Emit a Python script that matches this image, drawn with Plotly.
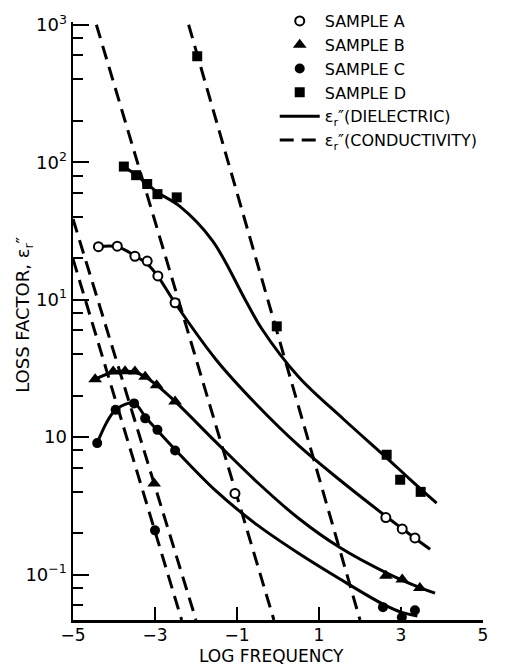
import plotly.graph_objects as go

# ---- measured points (log frequency, loss factor) ----
A_x = [-4.38, -3.92, -3.49, -3.19, -2.93, -2.51, -1.05, 2.63, 3.03, 3.34]
A_y = [24.3, 24.5, 20.7, 19.1, 14.9, 9.5, 0.39, 0.26, 0.215, 0.185]

B_x = [-4.46, -4.02, -3.73, -3.49, -3.24, -2.96, -2.51, -3.02, 2.63, 3.03, 3.46]
B_y = [2.64, 3.0, 3.02, 3.0, 2.75, 2.39, 1.82, 0.46, 0.098, 0.092, 0.080]

C_x = [-4.41, -3.96, -3.51, -3.24, -2.94, -2.51, -3.0, 2.56, 3.02, 3.34]
C_y = [0.905, 1.58, 1.76, 1.37, 1.13, 0.80, 0.21, 0.058, 0.049, 0.055]

D_x = [-3.76, -3.46, -3.19, -2.94, -2.47, -1.97, -0.03, 2.65, 2.98, 3.48]
D_y = [93, 80.5, 69.4, 58.6, 55.5, 590, 6.4, 0.745, 0.49, 0.40]

# ---- dielectric fits (solid curves) ----
A_fit_x = [-4.38, -3.92, -3.49, -3.19, -2.93, -2.51, -1.5, -0.5, 0.5, 1.5, 2.63, 3.03, 3.34, 3.71]
A_fit_y = [24.3, 24.3, 20.9, 18.2, 14.8, 9.46, 3.63, 1.70, 0.871, 0.49, 0.266, 0.216, 0.184, 0.153]

B_fit_x = [-4.46, -4.02, -3.73, -3.49, -3.24, -2.96, -2.51, -1.5, -0.5, 0.5, 1.5, 2.63, 3.46, 3.83]
B_fit_y = [2.64, 2.98, 3.02, 2.98, 2.75, 2.39, 1.82, 0.912, 0.468, 0.257, 0.158, 0.1035, 0.0804, 0.0733]

C_fit_x = [-4.41, -3.96, -3.51, -3.24, -2.94, -2.51, -1.5, -0.5, 0.5, 1.5, 2.56, 3.02, 3.4]
C_fit_y = [0.905, 1.58, 1.76, 1.41, 1.12, 0.813, 0.403, 0.229, 0.143, 0.0933, 0.061, 0.0531, 0.0501]

D_fit_x = [-3.76, -3.46, -3.19, -2.94, -2.4, -1.6, -0.8, -0.4, 0.5, 1.6, 2.65, 3.2, 3.87]
D_fit_y = [93, 80.5, 69.4, 60.3, 47.9, 26.9, 10.0, 6.17, 2.75, 1.35, 0.708, 0.50, 0.331]

# ---- conductivity lines (dashed), endpoints ----
A_cond_x = [-4.43, -0.10]
A_cond_y = [1000, 0.0468]
B_cond_x = [-5.0, -2.0]
B_cond_y = [38.6, 0.0468]
C_cond_x = [-5.0, -2.35]
C_cond_y = [19.8, 0.0468]
D_cond_x = [-2.18, 2.0]
D_cond_y = [1000, 0.0468]

x_tickvals = [-5, -3, -1, 1, 3, 5]
x_ticktext = ["\u22125", "\u22123", "\u22121", "1", "3", "5"]
y_tickvals = [0.1, 1, 10, 100, 1000]
y_ticktext = ["10<sup>\u22121</sup>", "10", "10<sup>1</sup>", "10<sup>2</sup>", "10<sup>3</sup>"]
y_minor = [0.06, 0.08, 0.2, 0.4, 0.6, 0.8, 2, 4, 6, 8, 20, 40, 60, 80, 200, 400, 600, 800]

FONT = "DejaVu Sans"
EPS = "\u03b5<sub>r</sub>\u2033"

fig = go.Figure()

LW = 3
DASH = "14px,8px"

fits = [(A_fit_x, A_fit_y), (B_fit_x, B_fit_y), (C_fit_x, C_fit_y), (D_fit_x, D_fit_y)]
for i, (fx, fy) in enumerate(fits):
    fig.add_trace(go.Scatter(
        x=fx, y=fy, mode="lines",
        line=dict(color="black", width=LW, shape="spline", smoothing=1.0),
        name=EPS + "(DIELECTRIC)", showlegend=(i == 0), legendrank=5,
        hoverinfo="skip"))

conds = [(A_cond_x, A_cond_y), (B_cond_x, B_cond_y), (C_cond_x, C_cond_y), (D_cond_x, D_cond_y)]
for i, (cx, cy) in enumerate(conds):
    fig.add_trace(go.Scatter(
        x=cx, y=cy, mode="lines",
        line=dict(color="black", width=LW, dash=DASH),
        name=EPS + "(CONDUCTIVITY)", showlegend=(i == 0), legendrank=6,
        hoverinfo="skip"))

fig.add_trace(go.Scatter(x=A_x, y=A_y, mode="markers", name="SAMPLE A", legendrank=1,
                         marker=dict(symbol="circle", size=9, color="white",
                                     line=dict(color="black", width=2)), cliponaxis=False))
fig.add_trace(go.Scatter(x=B_x, y=B_y, mode="markers", name="SAMPLE B", legendrank=2,
                         marker=dict(symbol="triangle-up", size=12, color="black",
                                     line=dict(width=0)), cliponaxis=False))
fig.add_trace(go.Scatter(x=C_x, y=C_y, mode="markers", name="SAMPLE C", legendrank=3,
                         marker=dict(symbol="circle", size=10, color="black",
                                     line=dict(width=0)), cliponaxis=False))
fig.add_trace(go.Scatter(x=D_x, y=D_y, mode="markers", name="SAMPLE D", legendrank=4,
                         marker=dict(symbol="square", size=10, color="black",
                                     line=dict(width=0)), cliponaxis=False))

fig.update_layout(
    width=516, height=665,
    margin=dict(l=73, r=33, t=22, b=45, autoexpand=False),
    paper_bgcolor="white", plot_bgcolor="white",
    font=dict(family=FONT, size=17, color="black"),
    showlegend=True,
    legend=dict(x=0.492, y=1.03, xanchor="left", yanchor="top",
                bgcolor="rgba(0,0,0,0)", font=dict(size=16, family=FONT),
                tracegroupgap=0, itemwidth=40),
    annotations=[
        dict(text="LOG FREQUENCY", xref="paper", yref="paper", x=0.483, y=-0.061,
             xanchor="center", yanchor="middle", showarrow=False,
             font=dict(size=17, family=FONT)),
        dict(text="LOSS FACTOR, " + EPS, xref="paper", yref="paper", x=-0.12, y=0.51,
             xanchor="center", yanchor="middle", showarrow=False, textangle=-90,
             font=dict(size=18, family=FONT)),
    ],
)

fig.update_xaxes(
    range=[-5, 5], showgrid=False, zeroline=False, automargin=False,
    showline=True, linecolor="black", linewidth=2.5,
    ticks="inside", ticklen=13, tickwidth=2, tickcolor="black",
    tickmode="array", tickvals=x_tickvals, ticktext=x_ticktext,
    tickfont=dict(size=17, family=FONT), ticklabelstandoff=-2,
)
fig.update_yaxes(
    type="log", range=[-1.33, 3.02], showgrid=False, zeroline=False, automargin=False,
    showline=True, linecolor="black", linewidth=2.5,
    ticks="inside", ticklen=16, tickwidth=2, tickcolor="black",
    tickmode="array", tickvals=y_tickvals, ticktext=y_ticktext,
    tickfont=dict(size=18, family=FONT),
    minor=dict(ticks="inside", ticklen=10, tickwidth=2, tickcolor="black",
               tickmode="array", tickvals=y_minor, showgrid=False),
)

fig.write_html("out.html", config={"displayModeBar": False, "staticPlot": True},
               post_script="document.body.style.margin='0';document.body.style.overflow='hidden';")
